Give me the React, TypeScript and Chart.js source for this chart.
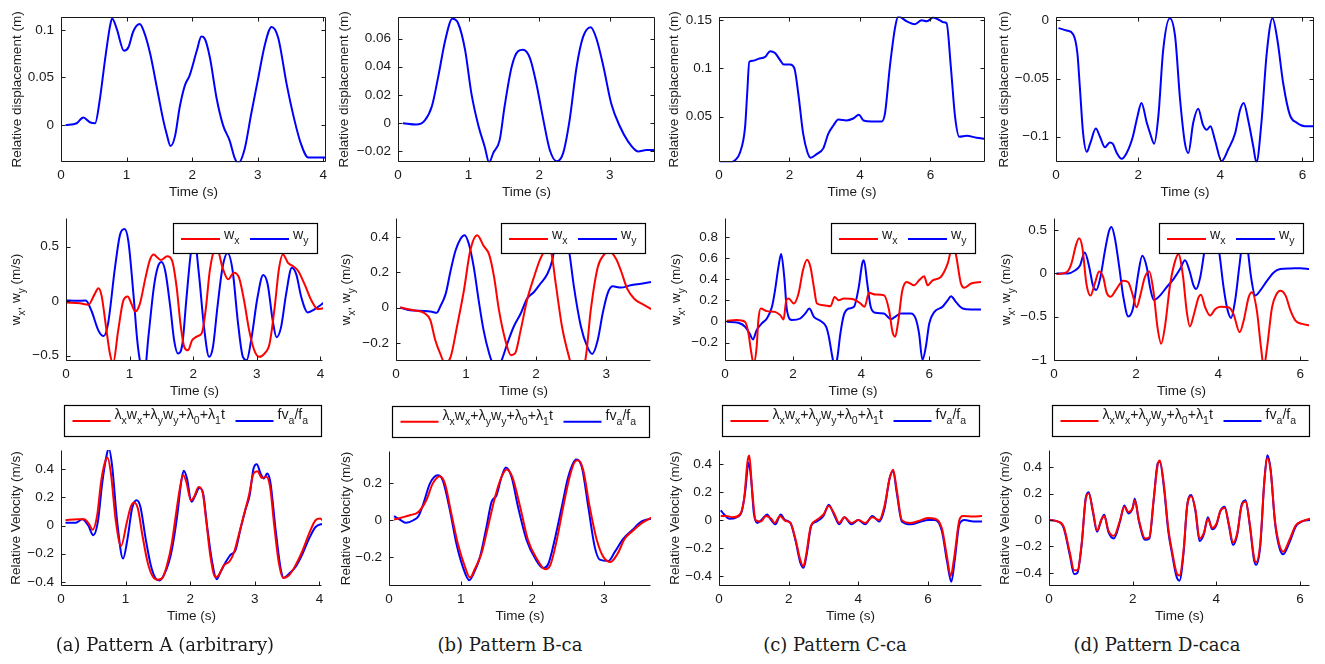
import React, { useEffect, useRef } from "react";
import { Chart, registerables } from "chart.js";
Chart.register(...registerables);

// ---------- DATA (time s, value) ----------
const dispA = [[0.07,0],[0.24,0.002],[0.34,0.008],[0.44,0.003],[0.52,0.002],[0.59,0.026],[0.67,0.068],[0.75,0.105],[0.78,0.112],[0.85,0.101],[0.96,0.078],[1.03,0.082],[1.1,0.098],[1.2,0.106],[1.26,0.099],[1.36,0.075],[1.46,0.04],[1.56,0.005],[1.61,-0.009],[1.67,-0.022],[1.74,-0.011],[1.81,0.019],[1.89,0.042],[1.96,0.052],[2.07,0.078],[2.14,0.093],[2.19,0.091],[2.27,0.071],[2.37,0.029],[2.47,0],[2.57,-0.016],[2.65,-0.035],[2.7,-0.04],[2.8,-0.025],[2.9,0.012],[3.0,0.047],[3.11,0.085],[3.21,0.103],[3.31,0.092],[3.44,0.043],[3.56,0.005],[3.66,-0.02],[3.77,-0.034],[3.87,-0.034],[4.04,-0.034]];
const dispB = [[0.07,0],[0.26,-0.001],[0.38,0.002],[0.48,0.012],[0.57,0.033],[0.67,0.059],[0.77,0.074],[0.85,0.071],[0.95,0.052],[1.04,0.021],[1.14,-0.002],[1.23,-0.017],[1.29,-0.028],[1.35,-0.021],[1.44,-0.012],[1.51,0.012],[1.61,0.04],[1.7,0.051],[1.77,0.052],[1.87,0.046],[1.96,0.028],[2.06,0.002],[2.15,-0.019],[2.25,-0.027],[2.34,-0.021],[2.43,0.002],[2.53,0.04],[2.62,0.061],[2.73,0.068],[2.81,0.06],[2.91,0.04],[3.02,0.014],[3.14,-0.002],[3.26,-0.013],[3.4,-0.02],[3.52,-0.019],[3.64,-0.019]];
const dispC = [[0.03,0.0028],[0.31,0.002],[0.45,0.0045],[0.6,0.013],[0.74,0.039],[0.8,0.074],[0.86,0.107],[0.97,0.108],[1.12,0.11],[1.31,0.112],[1.45,0.118],[1.59,0.116],[1.73,0.109],[1.84,0.104],[2.02,0.104],[2.14,0.1],[2.25,0.074],[2.39,0.032],[2.51,0.013],[2.6,0.0073],[2.77,0.011],[2.96,0.017],[3.1,0.032],[3.25,0.041],[3.39,0.047],[3.62,0.046],[3.81,0.048],[3.97,0.052],[4.1,0.046],[4.33,0.045],[4.62,0.045],[4.71,0.053],[4.85,0.102],[5.0,0.143],[5.09,0.154],[5.33,0.149],[5.56,0.146],[5.75,0.15],[5.89,0.149],[6.08,0.153],[6.27,0.15],[6.37,0.148],[6.46,0.147],[6.58,0.102],[6.7,0.05],[6.82,0.029],[7.03,0.03],[7.31,0.028],[7.55,0.027]];
const dispD = [[0.06,-0.0066],[0.26,-0.0086],[0.42,-0.012],[0.52,-0.028],[0.58,-0.057],[0.66,-0.097],[0.75,-0.113],[0.83,-0.106],[0.97,-0.093],[1.07,-0.1],[1.19,-0.109],[1.31,-0.105],[1.38,-0.106],[1.48,-0.114],[1.6,-0.119],[1.72,-0.114],[1.87,-0.1],[1.98,-0.083],[2.08,-0.071],[2.21,-0.088],[2.29,-0.097],[2.39,-0.106],[2.49,-0.083],[2.61,-0.025],[2.77,0.002],[2.9,-0.014],[3.02,-0.068],[3.14,-0.106],[3.22,-0.114],[3.34,-0.088],[3.46,-0.076],[3.58,-0.09],[3.67,-0.094],[3.76,-0.091],[3.87,-0.103],[4.03,-0.121],[4.19,-0.111],[4.36,-0.097],[4.48,-0.077],[4.57,-0.071],[4.68,-0.086],[4.8,-0.108],[4.88,-0.122],[5.0,-0.088],[5.13,-0.028],[5.27,0.002],[5.39,-0.017],[5.53,-0.054],[5.69,-0.081],[5.86,-0.088],[6.06,-0.091],[6.28,-0.091]];

const wxA = [[0,-0.012],[0.22,-0.02],[0.35,-0.033],[0.45,0.064],[0.51,0.118],[0.56,0.048],[0.63,-0.24],[0.69,-0.48],[0.74,-0.57],[0.82,-0.27],[0.9,0.003],[0.97,0.042],[1.03,-0.027],[1.09,-0.094],[1.16,-0.027],[1.25,0.215],[1.32,0.38],[1.38,0.427],[1.44,0.397],[1.49,0.376],[1.59,0.41],[1.67,0.367],[1.74,0.124],[1.8,-0.21],[1.86,-0.42],[1.92,-0.45],[1.98,-0.36],[2.04,-0.33],[2.09,-0.315],[2.14,-0.285],[2.2,-0.058],[2.26,0.276],[2.33,0.458],[2.38,0.47],[2.46,0.306],[2.55,0.2],[2.64,0.26],[2.72,0.215],[2.8,0.003],[2.88,-0.27],[2.96,-0.45],[3.04,-0.51],[3.12,-0.48],[3.2,-0.39],[3.28,-0.058],[3.35,0.306],[3.41,0.427],[3.49,0.35],[3.57,0.32],[3.65,0.276],[3.75,0.155],[3.86,0.003],[3.96,-0.073],[4.06,-0.064]];
const wyA = [[0,0.006],[0.16,0.003],[0.31,0.006],[0.4,-0.088],[0.51,-0.27],[0.59,-0.32],[0.66,-0.21],[0.77,0.306],[0.85,0.61],[0.92,0.66],[0.98,0.55],[1.06,0.064],[1.12,-0.36],[1.17,-0.57],[1.23,-0.66],[1.3,-0.3],[1.38,0.124],[1.44,0.306],[1.5,0.358],[1.56,0.276],[1.64,-0.058],[1.7,-0.36],[1.76,-0.48],[1.83,-0.39],[1.89,0.003],[1.96,0.43],[2.01,0.6],[2.09,0.245],[2.17,-0.24],[2.25,-0.51],[2.31,-0.42],[2.38,-0.058],[2.46,0.306],[2.54,0.44],[2.62,0.276],[2.7,-0.18],[2.78,-0.51],[2.84,-0.54],[2.91,-0.36],[3.01,0.033],[3.1,0.24],[3.17,0.155],[3.25,-0.18],[3.31,-0.33],[3.38,-0.24],[3.46,0.064],[3.55,0.306],[3.62,0.245],[3.7,0.033],[3.8,-0.103],[3.91,-0.073],[4.06,-0.012]];
const wxB = [[0.06,0],[0.25,-0.015],[0.4,-0.03],[0.49,-0.071],[0.56,-0.184],[0.63,-0.26],[0.7,-0.316],[0.78,-0.28],[0.87,-0.109],[0.97,0.098],[1.06,0.323],[1.16,0.41],[1.25,0.35],[1.33,0.3],[1.4,0.173],[1.47,-0.015],[1.56,-0.184],[1.64,-0.27],[1.7,-0.26],[1.78,-0.128],[1.87,0.041],[1.97,0.173],[2.06,0.276],[2.16,0.335],[2.21,0.32],[2.28,0.135],[2.37,-0.109],[2.47,-0.28],[2.54,-0.37],[2.64,-0.37],[2.71,-0.28],[2.78,-0.015],[2.88,0.229],[2.97,0.3],[3.04,0.32],[3.14,0.276],[3.21,0.21],[3.3,0.107],[3.4,0.05],[3.52,0.019],[3.65,-0.01]];
const wyB = [[0.06,0],[0.2,-0.015],[0.4,-0.019],[0.51,-0.024],[0.58,-0.03],[0.63,0.004],[0.71,0.079],[0.78,0.21],[0.85,0.323],[0.92,0.389],[0.98,0.41],[1.04,0.36],[1.11,0.229],[1.18,0.041],[1.25,-0.128],[1.33,-0.26],[1.38,-0.316],[1.44,-0.335],[1.5,-0.306],[1.59,-0.203],[1.68,-0.109],[1.78,-0.034],[1.87,0.05],[1.97,0.088],[2.06,0.135],[2.16,0.19],[2.23,0.267],[2.3,0.42],[2.4,0.45],[2.47,0.323],[2.54,0.117],[2.64,-0.109],[2.73,-0.222],[2.8,-0.263],[2.88,-0.184],[2.95,-0.034],[3.02,0.079],[3.09,0.12],[3.21,0.113],[3.35,0.126],[3.5,0.135],[3.65,0.145]];
const wxC = [[0.05,0.006],[0.34,0.013],[0.59,-0.003],[0.69,-0.113],[0.76,-0.27],[0.84,-0.4],[0.93,-0.24],[0.98,0.013],[1.05,0.123],[1.23,0.098],[1.47,0.091],[1.62,0.06],[1.72,0.019],[1.8,0.2],[1.87,0.217],[2.02,0.17],[2.16,0.265],[2.29,0.485],[2.41,0.586],[2.51,0.517],[2.61,0.328],[2.7,0.17],[2.9,0.154],[3.1,0.145],[3.22,0.233],[3.34,0.2],[3.49,0.217],[3.79,0.208],[3.98,0.17],[4.1,0.139],[4.23,0.271],[4.42,0.255],[4.67,0.249],[4.82,0.107],[4.92,-0.098],[5.0,-0.145],[5.08,-0.019],[5.21,0.296],[5.34,0.375],[5.56,0.343],[5.7,0.39],[5.85,0.428],[5.95,0.343],[6.1,0.39],[6.34,0.422],[6.54,0.548],[6.69,0.72],[6.78,0.64],[6.93,0.36],[7.03,0.32],[7.23,0.36],[7.54,0.375]];
const wyC = [[0.05,-0.003],[0.39,-0.013],[0.59,-0.05],[0.72,-0.113],[0.82,-0.17],[0.93,-0.082],[1.08,-0.019],[1.23,0.028],[1.38,0.139],[1.47,0.296],[1.57,0.517],[1.65,0.64],[1.74,0.422],[1.82,0.107],[1.97,0.013],[2.21,0.028],[2.36,0.076],[2.48,0.123],[2.61,0.044],[2.8,0.006],[2.97,-0.05],[3.05,-0.145],[3.15,-0.33],[3.22,-0.43],[3.29,-0.365],[3.39,-0.113],[3.49,0.06],[3.64,0.123],[3.79,0.139],[3.93,0.328],[4.03,0.548],[4.08,0.58],[4.18,0.359],[4.28,0.139],[4.42,0.082],[4.67,0.076],[4.87,0.022],[4.97,0.038],[5.16,0.076],[5.46,0.076],[5.6,0.028],[5.7,-0.113],[5.8,-0.365],[5.9,-0.24],[6.0,-0.019],[6.15,0.091],[6.39,0.139],[6.54,0.2],[6.64,0.24],[6.78,0.186],[6.98,0.123],[7.23,0.113],[7.54,0.113]];
const wxD = [[0.06,-0.008],[0.3,0.011],[0.42,0.107],[0.53,0.318],[0.61,0.406],[0.69,0.3],[0.79,-0.122],[0.89,-0.256],[0.99,-0.122],[1.1,0.023],[1.2,-0.046],[1.28,-0.218],[1.38,-0.268],[1.52,-0.18],[1.69,-0.084],[1.81,-0.103],[1.91,-0.237],[2.01,-0.39],[2.11,-0.237],[2.21,-0.046],[2.32,0.023],[2.42,-0.199],[2.52,-0.62],[2.61,-0.81],[2.7,-0.62],[2.83,-0.122],[2.95,0.145],[3.03,0.222],[3.14,-0.027],[3.23,-0.429],[3.31,-0.612],[3.41,-0.467],[3.52,-0.276],[3.58,-0.245],[3.68,-0.39],[3.8,-0.486],[3.93,-0.41],[4.05,-0.383],[4.25,-0.39],[4.37,-0.467],[4.52,-0.677],[4.62,-0.543],[4.74,-0.276],[4.82,-0.218],[4.94,-0.429],[5.04,-0.85],[5.11,-1.08],[5.19,-0.85],[5.31,-0.39],[5.42,-0.237],[5.51,-0.199],[5.64,-0.256],[5.76,-0.429],[5.88,-0.543],[6.04,-0.582],[6.23,-0.6]];
const wyD = [[0.06,0],[0.34,0],[0.5,0.031],[0.63,0.088],[0.75,0.241],[0.86,0.069],[0.95,-0.142],[1.03,-0.191],[1.13,-0.046],[1.24,0.26],[1.34,0.49],[1.4,0.536],[1.48,0.413],[1.59,0.069],[1.69,-0.276],[1.81,-0.497],[1.93,-0.39],[2.05,-0.008],[2.15,0.203],[2.26,0.069],[2.34,-0.161],[2.43,-0.306],[2.58,-0.256],[2.74,-0.161],[2.91,-0.065],[3.07,0.05],[3.19,0.153],[3.3,0.031],[3.4,-0.142],[3.46,-0.18],[3.56,-0.046],[3.68,0.3],[3.8,0.528],[3.93,0.49],[4.03,0.222],[4.13,-0.161],[4.23,-0.429],[4.31,-0.513],[4.41,-0.314],[4.52,0.107],[4.62,0.45],[4.7,0.337],[4.8,-0.046],[4.9,-0.256],[5.02,-0.199],[5.19,-0.084],[5.35,0.011],[5.51,0.05],[5.76,0.057],[6.0,0.061],[6.23,0.05]];

const fitA = [[0.07,0.038],[0.25,0.045],[0.36,0.045],[0.43,0.014],[0.49,-0.029],[0.56,0.074],[0.62,0.31],[0.68,0.45],[0.72,0.485],[0.77,0.38],[0.85,0.026],[0.93,-0.145],[1.02,0.026],[1.08,0.133],[1.13,0.164],[1.19,0.121],[1.26,-0.069],[1.34,-0.26],[1.41,-0.354],[1.49,-0.385],[1.57,-0.373],[1.64,-0.283],[1.71,-0.14],[1.77,0.05],[1.84,0.264],[1.89,0.36],[1.94,0.31],[2.01,0.18],[2.06,0.204],[2.13,0.275],[2.19,0.24],[2.25,0.026],[2.31,-0.21],[2.39,-0.366],[2.44,-0.354],[2.52,-0.283],[2.61,-0.254],[2.68,-0.188],[2.75,-0.069],[2.83,0.074],[2.91,0.216],[2.98,0.37],[3.04,0.387],[3.11,0.34],[3.18,0.347],[3.24,0.264],[3.3,0.002],[3.37,-0.26],[3.44,-0.373],[3.53,-0.354],[3.63,-0.283],[3.73,-0.188],[3.84,-0.057],[3.94,0.038],[4.01,0.05],[4.06,0.031]];
const velA = [[0.07,0.021],[0.23,0.021],[0.33,0.045],[0.42,0.002],[0.5,-0.069],[0.57,0.026],[0.64,0.31],[0.71,0.51],[0.74,0.55],[0.79,0.43],[0.87,0.026],[0.96,-0.235],[1.03,-0.093],[1.1,0.121],[1.17,0.18],[1.23,0.133],[1.31,-0.093],[1.39,-0.283],[1.46,-0.373],[1.53,-0.39],[1.59,-0.354],[1.67,-0.26],[1.72,-0.164],[1.8,0.074],[1.86,0.31],[1.9,0.39],[1.95,0.335],[2.02,0.169],[2.08,0.216],[2.14,0.268],[2.2,0.228],[2.26,0.002],[2.34,-0.26],[2.41,-0.382],[2.47,-0.33],[2.55,-0.26],[2.62,-0.21],[2.7,-0.176],[2.78,-0.021],[2.86,0.121],[2.92,0.216],[2.98,0.406],[3.03,0.437],[3.09,0.37],[3.14,0.335],[3.19,0.37],[3.24,0.31],[3.32,-0.021],[3.4,-0.306],[3.45,-0.373],[3.53,-0.342],[3.63,-0.295],[3.73,-0.21],[3.84,-0.093],[3.94,-0.01],[4.06,0.014]];
const fitB = [[0.07,0.004],[0.17,0.014],[0.29,0.027],[0.41,0.045],[0.52,0.108],[0.61,0.198],[0.71,0.238],[0.78,0.198],[0.87,0.036],[0.96,-0.126],[1.06,-0.252],[1.13,-0.31],[1.2,-0.261],[1.29,-0.18],[1.38,-0.036],[1.48,0.126],[1.57,0.234],[1.64,0.274],[1.72,0.234],[1.83,0.072],[1.94,-0.108],[2.06,-0.207],[2.18,-0.265],[2.25,-0.243],[2.34,-0.108],[2.43,0.072],[2.52,0.234],[2.59,0.315],[2.64,0.324],[2.71,0.27],[2.8,0.072],[2.9,-0.108],[2.99,-0.198],[3.09,-0.225],[3.19,-0.18],[3.29,-0.099],[3.41,-0.054],[3.53,-0.014],[3.66,0.014]];
const velB = [[0.07,0.022],[0.15,0.004],[0.24,-0.014],[0.34,0],[0.41,0.022],[0.48,0.09],[0.57,0.198],[0.68,0.243],[0.75,0.216],[0.85,0.054],[0.94,-0.126],[1.03,-0.252],[1.12,-0.324],[1.18,-0.288],[1.27,-0.198],[1.36,-0.036],[1.43,0.099],[1.5,0.135],[1.57,0.234],[1.63,0.285],[1.71,0.234],[1.8,0.072],[1.92,-0.108],[2.04,-0.207],[2.15,-0.258],[2.22,-0.238],[2.31,-0.108],[2.41,0.072],[2.5,0.234],[2.61,0.328],[2.69,0.288],[2.78,0.072],[2.87,-0.144],[2.94,-0.213],[3.06,-0.22],[3.15,-0.171],[3.27,-0.099],[3.39,-0.054],[3.53,-0.005],[3.66,0.009]];
const fitC = [[0.05,0.03],[0.2,0.03],[0.4,0.02],[0.6,0.04],[0.72,0.15],[0.82,0.42],[0.87,0.46],[0.95,0.22],[1.05,0],[1.2,-0.01],[1.35,0.03],[1.5,0.01],[1.6,-0.02],[1.75,0.03],[1.9,-0.005],[2.05,-0.02],[2.2,-0.14],[2.33,-0.28],[2.42,-0.33],[2.5,-0.25],[2.63,-0.05],[2.8,0],[3.0,0.04],[3.15,0.1],[3.3,0.05],[3.45,-0.02],[3.6,0.02],[3.8,-0.02],[4.0,0],[4.2,-0.02],[4.4,0.02],[4.6,0],[4.75,0.1],[4.9,0.3],[5.0,0.36],[5.1,0.22],[5.25,0],[5.5,-0.02],[5.8,0],[6.0,0.015],[6.2,0.01],[6.4,-0.06],[6.55,-0.27],[6.65,-0.4],[6.75,-0.27],[6.9,0],[7.0,0.03],[7.3,0.025],[7.55,0.03]];
const velC = [[0.05,0.07],[0.15,0.04],[0.3,0.01],[0.5,0.02],[0.65,0.06],[0.75,0.2],[0.85,0.41],[0.92,0.3],[1.0,0.05],[1.1,-0.02],[1.25,0.01],[1.38,0.04],[1.5,0],[1.62,-0.03],[1.77,0.04],[1.9,0],[2.05,-0.02],[2.2,-0.15],[2.33,-0.3],[2.43,-0.34],[2.52,-0.24],[2.65,-0.04],[2.8,-0.01],[3.0,0.03],[3.15,0.11],[3.3,0.04],[3.45,-0.03],[3.6,0.02],[3.8,-0.03],[4.0,0],[4.2,-0.03],[4.4,0.03],[4.6,-0.01],[4.75,0.08],[4.9,0.3],[5.0,0.35],[5.1,0.2],[5.25,-0.01],[5.5,-0.03],[5.8,-0.01],[6.0,0],[6.2,0],[6.4,-0.08],[6.55,-0.3],[6.67,-0.44],[6.77,-0.28],[6.9,-0.03],[7.05,0],[7.3,-0.01],[7.55,-0.01]];
const fitD = [[0,0],[0.2,-0.01],[0.35,-0.05],[0.5,-0.25],[0.6,-0.38],[0.68,-0.38],[0.78,-0.18],[0.88,0.16],[0.95,0.2],[1.05,0.07],[1.15,-0.08],[1.25,0],[1.32,0.03],[1.42,-0.08],[1.55,-0.12],[1.7,0],[1.8,0.1],[1.9,0.06],[2.0,0.09],[2.05,0.15],[2.15,0],[2.3,-0.14],[2.4,-0.13],[2.5,0.15],[2.6,0.42],[2.65,0.45],[2.75,0.26],[2.85,-0.06],[2.95,-0.25],[3.05,-0.4],[3.12,-0.42],[3.22,-0.22],[3.3,0.1],[3.4,0.18],[3.5,0.08],[3.6,-0.14],[3.7,-0.1],[3.8,0.01],[3.9,-0.06],[4.0,-0.03],[4.1,0.07],[4.2,0.09],[4.3,-0.03],[4.4,-0.17],[4.5,-0.1],[4.6,0.1],[4.7,0.14],[4.8,-0.03],[4.9,-0.28],[4.95,-0.32],[5.05,-0.18],[5.15,0.3],[5.22,0.47],[5.3,0.37],[5.4,0],[5.5,-0.18],[5.6,-0.24],[5.75,-0.15],[5.9,-0.04],[6.05,-0.01],[6.24,0.01]];
const velD = [[0,0],[0.2,-0.01],[0.35,-0.06],[0.5,-0.27],[0.6,-0.41],[0.68,-0.4],[0.78,-0.19],[0.88,0.17],[0.95,0.21],[1.05,0.06],[1.15,-0.09],[1.25,0],[1.32,0.04],[1.42,-0.09],[1.55,-0.14],[1.7,-0.01],[1.8,0.11],[1.9,0.05],[2.0,0.09],[2.05,0.16],[2.15,-0.01],[2.3,-0.15],[2.4,-0.14],[2.5,0.14],[2.6,0.43],[2.65,0.44],[2.75,0.24],[2.85,-0.08],[2.95,-0.27],[3.05,-0.43],[3.12,-0.46],[3.22,-0.24],[3.3,0.1],[3.4,0.19],[3.5,0.07],[3.6,-0.16],[3.7,-0.11],[3.8,0.02],[3.9,-0.07],[4.0,-0.04],[4.1,0.07],[4.2,0.1],[4.3,-0.04],[4.4,-0.19],[4.5,-0.11],[4.6,0.11],[4.7,0.15],[4.8,-0.04],[4.9,-0.3],[4.95,-0.34],[5.05,-0.2],[5.15,0.3],[5.22,0.49],[5.3,0.38],[5.4,-0.01],[5.5,-0.2],[5.6,-0.26],[5.75,-0.17],[5.9,-0.05],[6.05,-0.01],[6.24,0]];

// tick values
const xTicksAB = [0, 1, 2, 3, 4];
const xTicksCD = [0, 2, 4, 6];
const yTicksDispA = [0, 0.05, 0.1];
const yTicksDispB = [-0.02, 0, 0.02, 0.04, 0.06];
const yTicksDispC = [0.05, 0.1, 0.15];
const yTicksDispD = [-0.1, -0.05, 0];
const yTicksWA = [-0.5, 0, 0.5];
const yTicksWB = [-0.2, 0, 0.2, 0.4];
const yTicksWC = [-0.2, 0, 0.2, 0.4, 0.6, 0.8];
const yTicksWD = [-1, -0.5, 0, 0.5];
const yTicksVelA = [-0.4, -0.2, 0, 0.2, 0.4];
const yTicksVelB = [-0.2, 0, 0.2];
const yTicksVelCD = [-0.4, -0.2, 0, 0.2, 0.4];

const captions = ["(a) Pattern A (arbitrary)", "(b) Pattern B-ca", "(c) Pattern C-ca", "(d) Pattern D-caca"];

// ---------- STYLE ----------
const RED = "#ff0000";
const BLUE = "#0000ff";
const INK = "#1a1a1a";
const SANS = "'Liberation Sans', Arial, Helvetica, sans-serif";
const FS = 13.5;
const SUB = 10;
const LFS = 14.2;
const LSUB = 10.5;

type Seg = { t: string; s?: boolean };
const T = (t: string): Seg => ({ t });
const S = (t: string): Seg => ({ t, s: true });

const titleDisp: Seg[] = [T("Relative displacement (m)")];
const titleW: Seg[] = [T("w"), S("x"), T(", w"), S("y"), T(" (m/s)")];
const titleVel: Seg[] = [T("Relative Velocity (m/s)")];
const legW = [[T("w"), S("x")], [T("w"), S("y")]];
const legV = [[T("λ"), S("x"), T("w"), S("x"), T("+λ"), S("y"), T("w"), S("y"), T("+λ"), S("0"), T("+λ"), S("1"), T("t")], [T("fv"), S("a"), T("/f"), S("a")]];

interface Panel {
  plot: number[]; // l,t,r,b (page px)
  cTop: number;
  cBot: number;
  xMax: number;
  yMin: number;
  yMax: number;
  xTicks: number[];
  yTicks: number[];
  series: { data: number[][]; color: string }[];
  box: boolean;
  yTitle: Seg[];
  yOff: number;
  legend?: "mid" | "bot";
}

const R1 = [0, 205], R2 = [203, 400], R3 = [398, 628];
const panels: Panel[] = [
  { plot: [61, 16.5, 326, 162.3], cTop: R1[0], cBot: R1[1], xMax: 4.04, yMin: -0.039, yMax: 0.114, xTicks: xTicksAB, yTicks: yTicksDispA, series: [{ data: dispA, color: BLUE }], box: true, yTitle: titleDisp, yOff: 45 },
  { plot: [398, 16.5, 655, 162.3], cTop: R1[0], cBot: R1[1], xMax: 3.64, yMin: -0.0277, yMax: 0.0756, xTicks: xTicksAB, yTicks: yTicksDispB, series: [{ data: dispB, color: BLUE }], box: true, yTitle: titleDisp, yOff: 55 },
  { plot: [719, 16.5, 985, 162.3], cTop: R1[0], cBot: R1[1], xMax: 7.55, yMin: 0.0025, yMax: 0.154, xTicks: xTicksCD, yTicks: yTicksDispC, series: [{ data: dispC, color: BLUE }], box: true, yTitle: titleDisp, yOff: 46 },
  { plot: [1056, 16.5, 1314, 162.3], cTop: R1[0], cBot: R1[1], xMax: 6.28, yMin: -0.122, yMax: 0.0034, xTicks: xTicksCD, yTicks: yTicksDispD, series: [{ data: dispD, color: BLUE }], box: true, yTitle: titleDisp, yOff: 53 },

  { plot: [66, 217.3, 322.7, 361], cTop: R2[0], cBot: R2[1], xMax: 4.04, yMin: -0.548, yMax: 0.76, xTicks: xTicksAB, yTicks: yTicksWA, series: [{ data: wxA, color: RED }, { data: wyA, color: BLUE }], box: false, yTitle: titleW, yOff: 51, legend: "mid" },
  { plot: [396, 217.3, 651, 361], cTop: R2[0], cBot: R2[1], xMax: 3.64, yMin: -0.303, yMax: 0.507, xTicks: xTicksAB, yTicks: yTicksWB, series: [{ data: wxB, color: RED }, { data: wyB, color: BLUE }], box: false, yTitle: titleW, yOff: 51, legend: "mid" },
  { plot: [725, 217.3, 981, 361], cTop: R2[0], cBot: R2[1], xMax: 7.52, yMin: -0.375, yMax: 0.98, xTicks: xTicksCD, yTicks: yTicksWC, series: [{ data: wxC, color: RED }, { data: wyC, color: BLUE }], box: false, yTitle: titleW, yOff: 50, legend: "mid" },
  { plot: [1054, 217.3, 1309, 361], cTop: R2[0], cBot: R2[1], xMax: 6.21, yMin: -1.01, yMax: 0.638, xTicks: xTicksCD, yTicks: yTicksWD, series: [{ data: wxD, color: RED }, { data: wyD, color: BLUE }], box: false, yTitle: titleW, yOff: 49, legend: "mid" },

  { plot: [61, 450, 322, 586], cTop: R3[0], cBot: R3[1], xMax: 4.04, yMin: -0.43, yMax: 0.538, xTicks: xTicksAB, yTicks: yTicksVelA, series: [{ data: fitA, color: RED }, { data: velA, color: BLUE }], box: false, yTitle: titleVel, yOff: 46, legend: "bot" },
  { plot: [389, 450.7, 651, 586.3], cTop: R3[0], cBot: R3[1], xMax: 3.655, yMin: -0.357, yMax: 0.376, xTicks: xTicksAB, yTicks: yTicksVelB, series: [{ data: fitB, color: RED }, { data: velB, color: BLUE }], box: false, yTitle: titleVel, yOff: 44, legend: "bot" },
  { plot: [719, 450, 982, 586], cTop: R3[0], cBot: R3[1], xMax: 7.55, yMin: -0.47, yMax: 0.5, xTicks: xTicksCD, yTicks: yTicksVelCD, series: [{ data: fitC, color: RED }, { data: velC, color: BLUE }], box: false, yTitle: titleVel, yOff: 45, legend: "bot" },
  { plot: [1049, 450, 1310, 586], cTop: R3[0], cBot: R3[1], xMax: 6.24, yMin: -0.5, yMax: 0.53, xTicks: xTicksCD, yTicks: yTicksVelCD, series: [{ data: fitD, color: RED }, { data: velD, color: BLUE }], box: false, yTitle: titleVel, yOff: 45, legend: "bot" },
];

const captionX = [165, 510, 835, 1157];

// ---------- drawing helpers ----------
function segWidth(ctx: CanvasRenderingContext2D, segs: Seg[], fs = FS, sub = SUB) {
  let w = 0;
  for (const sg of segs) {
    ctx.font = `${sg.s ? sub : fs}px ${SANS}`;
    w += ctx.measureText(sg.t).width;
  }
  return w;
}
function drawSegs(ctx: CanvasRenderingContext2D, segs: Seg[], x: number, base: number, fs = FS, sub = SUB) {
  ctx.textBaseline = "alphabetic";
  ctx.textAlign = "left";
  for (const sg of segs) {
    ctx.font = `${sg.s ? sub : fs}px ${SANS}`;
    ctx.fillText(sg.t, x, sg.s ? base + 5 : base);
    x += ctx.measureText(sg.t).width;
  }
}

const PAD_L = 66;
const PAD_R = 12;
const fmt = (v: number) => String(Math.round(v * 1000) / 1000).replace("-", "\u2212");
const inRange = (v: number, lo: number, hi: number) => v >= lo - 1e-9 && v <= hi + 1e-9;

const decor = {
  id: "decor",
  afterDraw(chart: any, _a: any, o: any) {
    const p: Panel = o.panel;
    const { ctx, chartArea: a } = chart;
    const xs = chart.scales.x, ys = chart.scales.y;
    const L = Math.round(a.left) + 0.5, Rr = Math.round(a.right) - 0.5;
    const Tp = Math.round(a.top) + 0.5, B = Math.round(a.bottom) - 0.5;
    ctx.save();
    ctx.strokeStyle = INK;
    ctx.lineWidth = 1;
    ctx.beginPath();
    ctx.moveTo(L, Tp);
    ctx.lineTo(L, B);
    ctx.lineTo(Rr, B);
    if (p.box) {
      ctx.lineTo(Rr, Tp);
      ctx.lineTo(L, Tp);
    }
    ctx.stroke();
    const TL = 4;
    ctx.beginPath();
    for (const v of p.xTicks.filter((t) => inRange(t, 0, p.xMax))) {
      const x = Math.round(xs.getPixelForValue(v)) + 0.5;
      ctx.moveTo(x, B); ctx.lineTo(x, B - TL);
      if (p.box) { ctx.moveTo(x, Tp); ctx.lineTo(x, Tp + TL); }
    }
    for (const v of p.yTicks.filter((t) => inRange(t, p.yMin, p.yMax))) {
      const y = Math.round(ys.getPixelForValue(v)) + 0.5;
      ctx.moveTo(L, y); ctx.lineTo(L + TL, y);
      if (p.box) { ctx.moveTo(Rr, y); ctx.lineTo(Rr - TL, y); }
    }
    ctx.stroke();

    ctx.fillStyle = INK;
    // x title
    const xt = [T("Time (s)")];
    const xw = segWidth(ctx, xt);
    drawSegs(ctx, xt, (a.left + a.right) / 2 - xw / 2, a.bottom + 34);
    // y title (rotated)
    ctx.save();
    ctx.translate(a.left - p.yOff + 5, (a.top + a.bottom) / 2);
    ctx.rotate(-Math.PI / 2);
    const yw = segWidth(ctx, p.yTitle);
    drawSegs(ctx, p.yTitle, -yw / 2, 0);
    ctx.restore();

    // legend
    if (p.legend) {
      const mid = p.legend === "mid";
      const w = mid ? 144 : 257;
      const h = mid ? 30 : 31;
      const bx = mid ? a.right - 6 - w : a.left + 2.5;
      const by = mid ? a.top + 5 : a.top - 45;
      ctx.fillStyle = "#ffffff";
      ctx.fillRect(bx, by, w, h);
      ctx.strokeStyle = "#000000";
      ctx.lineWidth = 1.2;
      ctx.strokeRect(Math.round(bx) + 0.5, Math.round(by) + 0.5, w, h);
      const items = mid ? legW : legV;
      const lines = mid ? [[8, 47], [77, 116]] : [[9, 47], [172, 210]];
      const colors = [RED, BLUE];
      for (let i = 0; i < 2; i++) {
        ctx.strokeStyle = colors[i];
        ctx.lineWidth = 2;
        ctx.beginPath();
        ctx.moveTo(bx + lines[i][0], by + 16);
        ctx.lineTo(bx + lines[i][1], by + 16);
        ctx.stroke();
        ctx.fillStyle = INK;
        drawSegs(ctx, items[i], bx + lines[i][1] + 4, by + (mid ? 16 : 14), LFS, LSUB);
      }
    }
    ctx.restore();
  },
};

function PanelChart({ p }: { p: Panel }) {
  const ref = useRef<HTMLCanvasElement>(null);
  const left = Math.round(p.plot[0]) - PAD_L;
  const width = Math.round(p.plot[2]) - left + PAD_R;
  const height = p.cBot - p.cTop;
  useEffect(() => {
    const padTop = p.plot[1] - p.cTop;
    const xH = p.cBot - p.plot[3];
    const xt = p.xTicks.filter((t) => inRange(t, 0, p.xMax));
    const yt = p.yTicks.filter((t) => inRange(t, p.yMin, p.yMax));
    const chart = new Chart(ref.current!, {
      type: "line",
      data: {
        datasets: p.series.map((s) => ({
          data: s.data.map((d) => ({ x: d[0], y: d[1] })),
          borderColor: s.color,
          borderWidth: 2,
          pointRadius: 0,
          fill: false,
          cubicInterpolationMode: "monotone" as const,
        })),
      },
      options: {
        animation: false,
        responsive: false,
        events: [],
        layout: { padding: { top: padTop, right: PAD_R, left: 0, bottom: 0 } },
        plugins: {
          legend: { display: false },
          tooltip: { enabled: false },
          // @ts-ignore
          decor: { panel: p },
        },
        scales: {
          x: {
            type: "linear",
            min: 0,
            max: p.xMax,
            grid: { display: false, drawTicks: false },
            border: { display: false },
            ticks: { padding: 5, color: INK, font: { family: SANS, size: FS }, maxRotation: 0, autoSkip: false, callback: (v: any) => fmt(Number(v)) },
            afterBuildTicks: (s: any) => { s.ticks = xt.map((v) => ({ value: v })); },
            afterFit: (s: any) => { s.height = xH; },
          },
          y: {
            type: "linear",
            min: p.yMin,
            max: p.yMax,
            grid: { display: false, drawTicks: false },
            border: { display: false },
            ticks: { padding: 7, color: INK, font: { family: SANS, size: FS }, autoSkip: false, callback: (v: any) => fmt(Number(v)) },
            afterBuildTicks: (s: any) => { s.ticks = yt.map((v) => ({ value: v })); },
            afterFit: (s: any) => { s.width = PAD_L; },
          },
        },
      },
      plugins: [decor],
    } as any);
    return () => chart.destroy();
  }, []);
  return (
    <canvas
      ref={ref}
      width={width}
      height={height}
      style={{ position: "absolute", left, top: p.cTop, width, height }}
    />
  );
}

export default function App() {
  return (
    <div style={{ position: "fixed", left: 0, top: 0, width: 1325, height: 664, background: "#ffffff", overflow: "hidden" }}>
      {panels.map((p, i) => (
        <PanelChart key={i} p={p} />
      ))}
      {captions.map((c, i) => (
        <div
          key={c}
          style={{
            position: "absolute",
            left: captionX[i] - 150,
            width: 300,
            top: 633,
            textAlign: "center",
            fontFamily: "'DejaVu Serif', serif",
            fontSize: 18,
            lineHeight: "24px",
            color: INK,
            whiteSpace: "nowrap",
          }}
        >
          {c}
        </div>
      ))}
    </div>
  );
}
